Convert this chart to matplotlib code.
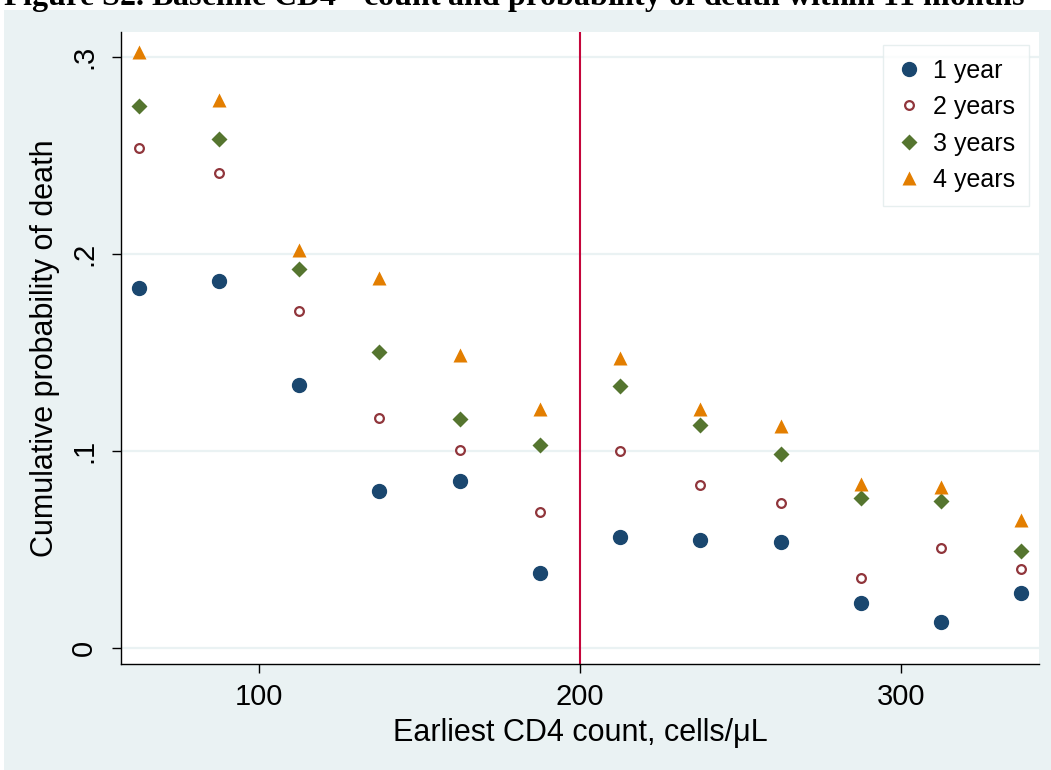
import numpy as np
import matplotlib
matplotlib.use("Agg")
import matplotlib.pyplot as plt
from matplotlib.patches import Rectangle

# CD4 count bin midpoints (cells/uL)
cd4 = [62.5, 87.5, 112.5, 137.5, 162.5, 187.5, 212.5, 237.5, 262.5, 287.5, 312.5, 337.5]

# cumulative probability of death by follow-up time
p1yr = [0.1826, 0.1863, 0.1335, 0.0795, 0.0848, 0.0382, 0.0562, 0.0548, 0.0540, 0.0230, 0.0130, 0.0281]
p2yr = [0.2540, 0.2410, 0.1710, 0.1167, 0.1005, 0.0692, 0.1000, 0.0827, 0.0734, 0.0354, 0.0506, 0.0401]
p3yr = [0.2753, 0.2582, 0.1922, 0.1504, 0.1161, 0.1030, 0.1332, 0.1132, 0.0983, 0.0760, 0.0746, 0.0494]
p4yr = [0.3025, 0.2780, 0.2020, 0.1878, 0.1487, 0.1213, 0.1471, 0.1213, 0.1128, 0.0831, 0.0819, 0.0650]

xticks = [100, 200, 300]
yticks = [0, 0.1, 0.2, 0.3]
yticklabels = ["0", ".1", ".2", ".3"]
cutoff = 200

plt.rcParams['font.family'] = ['Liberation Sans', 'DejaVu Sans']

fig = plt.figure(figsize=(10.51, 7.70), dpi=100)
fig.patch.set_facecolor("white")

# graph region background
fig.patches.append(Rectangle((4 / 1051, 0), 1 - 4 / 1051, 1 - 10 / 770,
                             transform=fig.transFigure, facecolor="#EAF2F3",
                             edgecolor="none", zorder=-10))

# page heading runs off the top of the page
fig.text(3 / 1051, 1 - 6 / 770,
         "Figure S2. Baseline CD4$^{+}$ count and probability of death within 11 months",
         family="Liberation Serif", weight="bold", fontsize=23,
         ha="left", va="baseline")

ax = fig.add_axes([121 / 1051, 1 - 664 / 770, 918 / 1051, 632 / 770])
ax.set_facecolor("white")

for y in yticks:
    ax.axhline(y, color="#EAF2F3", lw=1.6, zorder=0)
ax.axvline(cutoff, color="#C4063B", lw=1.5, zorder=1)

ax.plot(cd4, p1yr, "o", ms=10, color="#1A476F", mec="#1A476F", label="1 year", zorder=3)
ax.plot(cd4, p2yr, "o", ms=6.3, mfc="white", mec="#90353B", mew=1.6, label="2 years", zorder=3)
ax.plot(cd4, p3yr, "D", ms=8.0, color="#55752F", mec="none", label="3 years", zorder=3)
ax.plot(cd4, p4yr, "^", ms=10.0, color="#E37E00", mec="none", label="4 years", zorder=3)

ax.set_xlim(57.0, 343.0)
ax.set_ylim(-0.0081, 0.3127)
ax.set_xticks(xticks)
ax.set_yticks(yticks)
ax.set_yticklabels(yticklabels, rotation=90, va="center")

for s in ["top", "right"]:
    ax.spines[s].set_visible(False)
for s in ["left", "bottom"]:
    ax.spines[s].set_linewidth(1.0)

ax.tick_params(axis="both", direction="out", length=6.5, width=1.0, labelsize=21)
ax.tick_params(axis="x", pad=7)
ax.tick_params(axis="y", pad=10)

ax.set_xlabel("Earliest CD4 count, cells/\u03bcL", fontsize=22, labelpad=5)
ax.set_ylabel("Cumulative probability of death", fontsize=22, labelpad=7)

leg = ax.legend(loc="upper right", bbox_to_anchor=((1029 - 121) / 918, (664 - 45) / 632),
                borderaxespad=0, fontsize=18, frameon=True, fancybox=False,
                handletextpad=0.45, labelspacing=0.5, borderpad=0.55,
                handlelength=1.0, numpoints=1)
leg.get_frame().set_edgecolor("#E2EBEC")
leg.get_frame().set_linewidth(1.0)

fig.savefig("out.png", dpi=100, facecolor=fig.get_facecolor())
